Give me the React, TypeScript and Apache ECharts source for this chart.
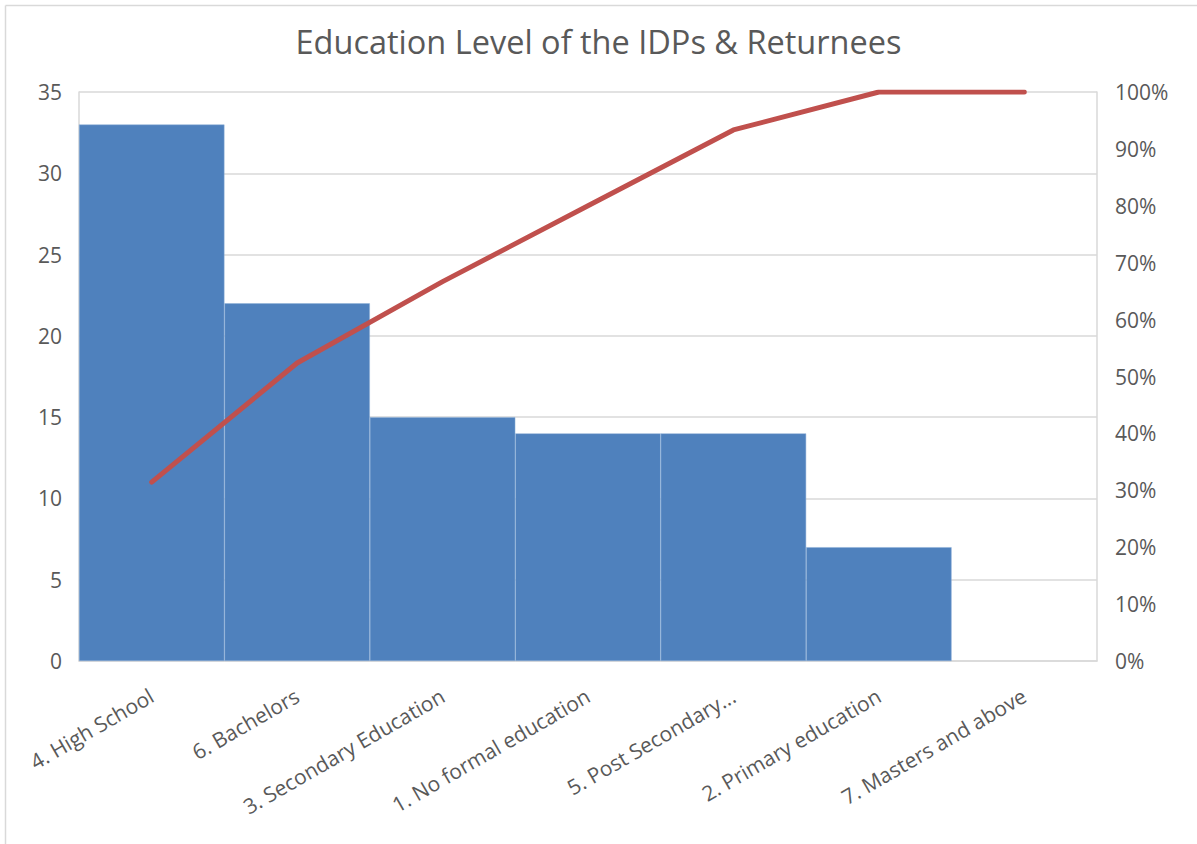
import React, { useEffect, useRef } from "react";
import * as echarts from "echarts";

const categories = [
  "4. High School",
  "6. Bachelors",
  "3. Secondary Education",
  "1. No formal education",
  "5. Post Secondary...",
  "2. Primary education",
  "7. Masters and above",
];
const counts = [33, 22, 15, 14, 14, 7, 0];
const cumulativePct = [0.3143, 0.5238, 0.6667, 0.8, 0.9333, 1.0, 1.0];

const titleText = "Education Level of the IDPs & Returnees";
const FONT = "'Open Sans', sans-serif";
const TXT = "#595959";
const GRID = "#d9d9d9";

export default function App() {
  const ref = useRef<HTMLDivElement>(null);
  useEffect(() => {
    if (!ref.current) return;
    const chart = echarts.init(ref.current, null, { renderer: "svg" });
    chart.setOption({
      animation: false,
      backgroundColor: "#ffffff",
      textStyle: { fontFamily: FONT },
      title: {
        text: titleText,
        left: "center",
        top: 20,
        textStyle: { fontFamily: FONT, fontSize: 32.5, fontWeight: "normal", color: TXT },
      },
      graphic: [
        { type: "line", shape: { x1: 5.5, y1: 5.5, x2: 1197, y2: 5.5 }, style: { stroke: GRID, lineWidth: 1.5 } },
        { type: "line", shape: { x1: 5.5, y1: 5.5, x2: 5.5, y2: 844 }, style: { stroke: GRID, lineWidth: 1.5 } },
      ],
      grid: { left: 79, right: 100, top: 92, bottom: 183 },
      xAxis: {
        type: "category",
        data: categories,
        axisLine: { show: true, lineStyle: { color: GRID, width: 1.5 } },
        axisTick: { show: false },
        axisLabel: {
          rotate: 30,
          interval: 0,
          margin: 33,
          fontSize: 21,
          color: TXT,
          fontFamily: FONT,
        },
      },
      yAxis: [
        {
          type: "value",
          min: 0,
          max: 35,
          interval: 5,
          axisLine: { show: true, lineStyle: { color: GRID, width: 1.5 } },
          axisTick: { show: false },
          splitLine: { show: true, lineStyle: { color: GRID, width: 1.5 } },
          axisLabel: { fontSize: 21, color: TXT, margin: 17, fontFamily: FONT },
        },
        {
          type: "value",
          min: 0,
          max: 1,
          interval: 0.1,
          position: "right",
          axisLine: { show: true, lineStyle: { color: GRID, width: 1.5 } },
          axisTick: { show: false },
          splitLine: { show: false },
          axisLabel: {
            fontSize: 21,
            color: TXT,
            margin: 18,
            fontFamily: FONT,
            formatter: (v: number) => Math.round(v * 100) + "%",
          },
        },
      ],
      series: [
        {
          type: "bar",
          data: counts.map((v) => (v === 0 ? { value: v, itemStyle: { borderWidth: 0 } } : v)),
          barCategoryGap: 0,
          itemStyle: { color: "#4F81BD", borderColor: "#8fb0d8", borderWidth: 0.5 },
          yAxisIndex: 0,
        },
        {
          type: "line",
          data: cumulativePct,
          yAxisIndex: 1,
          symbol: "none",
          lineStyle: { color: "#C0504D", width: 5, cap: "round", join: "round" },
        },
      ],
    });
    return () => chart.dispose();
  }, []);
  return (
    <div
      ref={ref}
      style={{ position: "fixed", left: 0, top: 0, width: 1197, height: 844, background: "#fff" }}
    />
  );
}
